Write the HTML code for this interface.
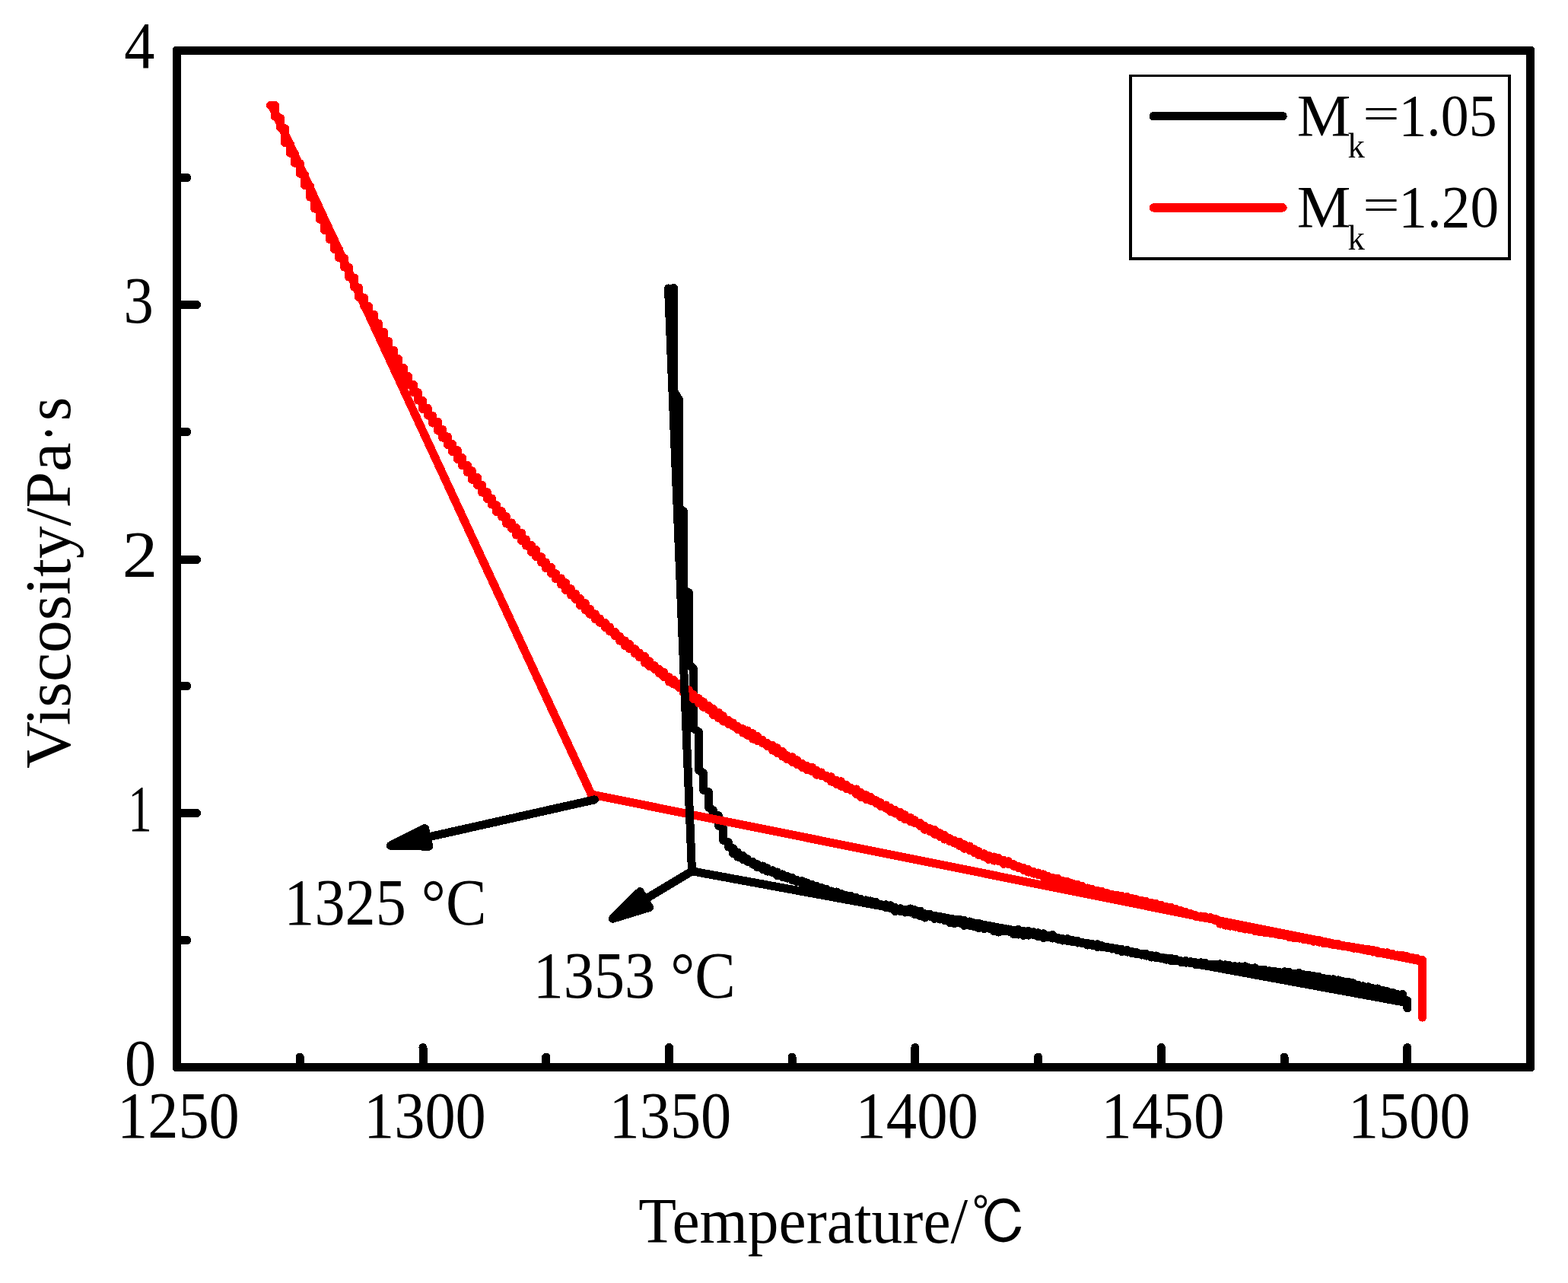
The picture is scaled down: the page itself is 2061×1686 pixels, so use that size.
<!DOCTYPE html>
<html lang="en"><head><meta charset="utf-8"><title>Viscosity vs Temperature</title>
<style>html,body{margin:0;padding:0;background:#fff}svg{display:block}</style></head>
<body>
<svg width="2061" height="1686" viewBox="0 0 2061 1686" shape-rendering="crispEdges" role="img" aria-label="Viscosity versus temperature">
<rect x="0" y="0" width="2061" height="1686" fill="#fff"/>
<g fill="none" stroke-width="11" stroke-linejoin="round" stroke-linecap="round">
<polyline stroke="#000" points="885.5,378.5 885.5,514 892.5,525 892.5,668 898.5,672 898.5,775 905.5,779 905.5,873 911.5,879 911.5,957 918.5,962 918.5,1012 924.5,1016 924.5,1038 931.5,1041 931.5,1061 937.5,1065 937.5,1069 944.5,1072 944.5,1085 950.5,1088 950.5,1104 957.5,1107 957.5,1113 963.5,1114.8 963.5,1121.5 969.5,1120 969.5,1126.2 976.5,1124.3 976.5,1129.7 982.5,1128.8 982.5,1132.3 989.5,1132.4 989.5,1136 995.5,1135.7 995.5,1139.8 1002.5,1138 1002.5,1142.4 1008.5,1140.8 1008.5,1145.2 1015.5,1143.8 1015.5,1146.9 1021.5,1146 1021.5,1150.5 1028.5,1148.9 1028.5,1152.6 1034.5,1151.1 1034.5,1154.2 1041.5,1153.3 1041.5,1156.8 1047.5,1156.5 1047.5,1159 1054.5,1157.7 1054.5,1161.1 1060.5,1159.9 1060.5,1164.3 1067.5,1162.4 1067.5,1165.5 1073.5,1164.5 1073.5,1168 1079.5,1166.1 1079.5,1169.9 1086.5,1168.3 1086.5,1171.1 1092.5,1171 1092.5,1173.3 1099.5,1172 1099.5,1175.2 1105.5,1174.1 1105.5,1176.6 1112.5,1176.7 1112.5,1178.7 1118.5,1177.5 1118.5,1181.1 1125.5,1179.3 1125.5,1182.2 1131.5,1181.2 1131.5,1184.1 1138.5,1182.9 1138.5,1185.2 1144.5,1183.9 1144.5,1186.9 1151.5,1185.4 1151.5,1189.6 1157.5,1188.4 1157.5,1190.5 1164.5,1188.7 1164.5,1192.7 1170.5,1189.9 1170.5,1193.7 1176.5,1192.2 1176.5,1197.6 1183.5,1193.7 1183.5,1197.8 1189.5,1195.4 1189.5,1199 1196.5,1194 1196.5,1199.1 1202.5,1195.9 1202.5,1201.8 1209.5,1197.1 1209.5,1203.9 1215.5,1200.8 1215.5,1206 1222.5,1201.3 1222.5,1204.3 1228.5,1204.4 1228.5,1207.4 1235.5,1204.2 1235.5,1208.1 1241.5,1206.7 1241.5,1209.6 1248.5,1207.5 1248.5,1212.7 1254.5,1209.9 1254.5,1213.8 1261.5,1208.4 1261.5,1213 1267.5,1209.5 1267.5,1216.4 1274.5,1210.9 1274.5,1216.3 1280.5,1214.1 1280.5,1217.9 1286.5,1213.2 1286.5,1219.8 1293.5,1216.6 1293.5,1220.4 1299.5,1218.1 1299.5,1220.1 1306.5,1219.7 1306.5,1223.9 1312.5,1220 1312.5,1225.1 1319.5,1221.1 1319.5,1223.6 1325.5,1221 1325.5,1224.2 1332.5,1222.3 1332.5,1227.8 1338.5,1221.4 1338.5,1228.1 1345.5,1223.2 1345.5,1229.4 1351.5,1223.1 1351.5,1229.2 1358.5,1224.8 1358.5,1228.5 1364.5,1225.8 1364.5,1230.9 1371.5,1226.8 1371.5,1232.7 1377.5,1229.6 1377.5,1231.7 1383.5,1228.4 1383.5,1233.1 1390.5,1232.1 1390.5,1234.3 1396.5,1233.5 1396.5,1236 1403.5,1233.6 1403.5,1236.5 1409.5,1235.2 1409.5,1237.7 1416.5,1236.5 1416.5,1239 1422.5,1238.3 1422.5,1239.8 1429.5,1239.4 1429.5,1242.1 1435.5,1240.2 1435.5,1242.3 1442.5,1240.8 1442.5,1244.7 1448.5,1242.7 1448.5,1244.6 1455.5,1244.3 1455.5,1245.8 1461.5,1245.3 1461.5,1247 1468.5,1246.7 1468.5,1248.5 1474.5,1247.4 1474.5,1250.7 1481.5,1248.4 1481.5,1251.2 1487.5,1250.1 1487.5,1252.7 1493.5,1251.5 1493.5,1253.8 1500.5,1253.3 1500.5,1255 1506.5,1253.3 1506.5,1256.1 1513.5,1255.3 1513.5,1258.1 1519.5,1256 1519.5,1258.7 1526.5,1258.1 1526.5,1259.8 1532.5,1259 1532.5,1261.2 1539.5,1259.2 1539.5,1262.9 1545.5,1260.4 1545.5,1262.6 1552.5,1262.7 1552.5,1264.6 1558.5,1262.3 1558.5,1265.2 1565.5,1263.7 1565.5,1265.3 1571.5,1264.8 1571.5,1267.4 1578.5,1264.9 1578.5,1268 1584.5,1265.3 1584.5,1267.7 1591.5,1267.2 1591.5,1268 1597.5,1267.1 1597.5,1269.3 1603.5,1266.9 1603.5,1269.8 1610.5,1267.8 1610.5,1270.3 1616.5,1268.6 1616.5,1270.6 1623.5,1269.7 1623.5,1271.5 1629.5,1269.9 1629.5,1273.2 1636.5,1269.8 1636.5,1272.7 1642.5,1271.9 1642.5,1273.7 1649.5,1271.8 1649.5,1275.8 1655.5,1274.1 1655.5,1275.5 1662.5,1274.3 1662.5,1277.7 1668.5,1275.7 1668.5,1277.9 1675.5,1276.2 1675.5,1278.2 1681.5,1277.6 1681.5,1279.9 1688.5,1276.8 1688.5,1280.8 1694.5,1277.5 1694.5,1281 1700.5,1279.5 1700.5,1281.2 1707.5,1278.6 1707.5,1283 1713.5,1280.9 1713.5,1282.5 1720.5,1281.4 1720.5,1284.9 1726.5,1282.6 1726.5,1285.1 1733.5,1283.2 1733.5,1287.7 1739.5,1285.3 1739.5,1287 1746.5,1286.3 1746.5,1289.1 1752.5,1286.8 1752.5,1289.9 1759.5,1287.9 1759.5,1292.5 1765.5,1289.9 1765.5,1292.6 1772.5,1290.2 1772.5,1294.3 1778.5,1291.9 1778.5,1295.5 1785.5,1294.6 1785.5,1298 1791.5,1295.9 1791.5,1299.8 1798.5,1296.8 1798.5,1299.5 1804.5,1298.7 1804.5,1301.2 1810.5,1299 1810.5,1303.6 1817.5,1301.4 1817.5,1303.7 1823.5,1302.6 1823.5,1306.5 1830.5,1304.2 1830.5,1306.2 1836.5,1306.2 1836.5,1308.9 1843.5,1306.4 1843.5,1313 1849.8,1315 1849.8,1325"/>
<polyline stroke="#f00" points="355.5,138.5 361.5,138.3 361.5,153.2 368.5,155.2 368.5,167.5 374.5,168.6 374.5,187.5 381.5,189.5 381.5,201.3 387.5,202.2 387.5,214.3 394.5,215.1 394.5,228.3 400.5,229.5 400.5,243.5 407.5,244.9 407.5,258.9 413.5,260.2 413.5,274 420.5,275.3 420.5,288.3 426.5,289.4 426.5,302.6 433.5,303.2 433.5,314.7 439.5,315.3 439.5,327.6 445.5,327.5 445.5,339 452.5,339.1 452.5,350.8 458.5,351.4 458.5,363.8 465.5,364.9 465.5,376.8 471.5,378 471.5,390.6 478.5,391.1 478.5,402.2 484.5,402.3 484.5,412.8 491.5,413.2 491.5,423.7 497.5,425 497.5,435.6 504.5,436.1 504.5,447.7 510.5,448.4 510.5,459.8 517.5,460.2 517.5,471.3 523.5,471.6 523.5,483.1 530.5,483.5 530.5,494.2 536.5,494.4 536.5,505.6 543.5,505.3 543.5,515.8 549.5,515.8 549.5,526.1 555.5,526.3 555.5,537.5 562.5,536.6 562.5,546 568.5,546 568.5,556 575.5,554.1 575.5,566 581.5,564.1 581.5,575.1 588.5,573.9 588.5,584.7 594.5,583.2 594.5,593.4 601.5,591.6 601.5,603.5 607.5,601.5 607.5,611.8 614.5,611.3 614.5,620.8 620.5,618.9 620.5,630.3 627.5,627.3 627.5,637.5 633.5,637.1 633.5,647.2 640.5,646.7 640.5,655.4 646.5,655 646.5,663.1 652.5,663.7 652.5,672.6 659.5,671.6 659.5,679.2 665.5,678.8 665.5,688.2 672.5,687 672.5,694.7 678.5,693.4 678.5,703.1 685.5,700.2 685.5,710.5 691.5,708.9 691.5,717.1 698.5,716.3 698.5,725.7 704.5,722.5 704.5,731.5 711.5,731.7 711.5,739.1 717.5,738.9 717.5,746.8 724.5,745.3 724.5,753.5 730.5,753.7 730.5,760.9 737.5,760 737.5,768.2 743.5,765.7 743.5,775.4 750.5,773.6 750.5,782.1 756.5,780.1 756.5,787.5 762.5,786.2 762.5,795.6 769.5,792.8 769.5,802 775.5,800.1 775.5,807.3 782.5,806.9 782.5,813.8 788.5,813 788.5,818.4 795.5,818.5 795.5,824.4 801.5,824 801.5,829.9 808.5,830.5 808.5,835.9 814.5,836 814.5,842.1 821.5,841.9 821.5,848.9 827.5,846.3 827.5,852.9 834.5,852.7 834.5,858.9 840.5,858 840.5,863.9 847.5,862.4 847.5,871.2 853.5,868.7 853.5,875.4 860.5,874.7 860.5,879.6 866.5,879.2 866.5,885 872.5,883.1 872.5,889.6 879.5,889.8 879.5,896.2 885.5,893.5 885.5,899.2 892.5,898.2 892.5,903.6 898.5,902.9 898.5,910.3 905.5,906.8 905.5,914.4 911.5,912.8 911.5,918.4 918.5,917.8 918.5,924.2 924.5,922 924.5,929.3 931.5,927.4 931.5,933 937.5,931.4 937.5,939.6 944.5,936.1 944.5,943.8 950.5,940.8 950.5,948 957.5,946.3 957.5,951.5 963.5,950 963.5,954.2 969.5,954.5 969.5,958.5 976.5,957.8 976.5,963.2 982.5,960 982.5,966.3 989.5,963.7 989.5,971.2 995.5,967.3 995.5,973.5 1002.5,972.6 1002.5,976.9 1008.5,976.4 1008.5,980.7 1015.5,979.3 1015.5,986.2 1021.5,982.9 1021.5,989.4 1028.5,987.4 1028.5,994.2 1034.5,992.7 1034.5,997.8 1041.5,994.8 1041.5,1001.7 1047.5,998.7 1047.5,1004.4 1054.5,1003.4 1054.5,1008.4 1060.5,1006.3 1060.5,1011.6 1067.5,1008.1 1067.5,1013.9 1073.5,1012.5 1073.5,1018.3 1079.5,1015 1079.5,1019.7 1086.5,1019.4 1086.5,1022.7 1092.5,1020.8 1092.5,1027.2 1099.5,1025.5 1099.5,1030.4 1105.5,1026.8 1105.5,1033.3 1112.5,1031.5 1112.5,1036.5 1118.5,1035.4 1118.5,1038.7 1125.5,1037 1125.5,1043.6 1131.5,1041.4 1131.5,1047.5 1138.5,1044.9 1138.5,1050.6 1144.5,1047.2 1144.5,1052.3 1151.5,1051.7 1151.5,1055.6 1157.5,1054.8 1157.5,1059.4 1164.5,1058 1164.5,1062.3 1170.5,1061.5 1170.5,1066.7 1176.5,1064.3 1176.5,1069 1183.5,1067.2 1183.5,1073.4 1189.5,1070.9 1189.5,1076.9 1196.5,1074.2 1196.5,1079.5 1202.5,1077.6 1202.5,1081.9 1209.5,1081.3 1209.5,1085.6 1215.5,1085.6 1215.5,1090.3 1222.5,1088.6 1222.5,1092.9 1228.5,1090.6 1228.5,1096.3 1235.5,1094.7 1235.5,1099.4 1241.5,1097.4 1241.5,1103.1 1248.5,1101.6 1248.5,1105.8 1254.5,1104.4 1254.5,1108.2 1261.5,1106.3 1261.5,1111.8 1267.5,1109.8 1267.5,1115.3 1274.5,1112 1274.5,1117.5 1280.5,1115.6 1280.5,1120.6 1286.5,1118.7 1286.5,1123.9 1293.5,1121.7 1293.5,1126.1 1299.5,1124.2 1299.5,1129.4 1306.5,1126 1306.5,1131.2 1312.5,1127.5 1312.5,1131.8 1319.5,1130.3 1319.5,1135.4 1325.5,1131.8 1325.5,1135.9 1332.5,1135.7 1332.5,1138.3 1338.5,1138.1 1338.5,1140.5 1345.5,1140.5 1345.5,1143.4 1351.5,1142.3 1351.5,1146.1 1358.5,1145.4 1358.5,1148.2 1364.5,1147 1364.5,1149.6 1371.5,1148.9 1371.5,1152.4 1377.5,1151.5 1377.5,1154.3 1383.5,1153.2 1383.5,1155.7 1390.5,1154.4 1390.5,1157.9 1396.5,1157.1 1396.5,1159.4 1403.5,1158.7 1403.5,1161.2 1409.5,1160.9 1409.5,1163.2 1416.5,1162.4 1416.5,1164.9 1422.5,1164.5 1422.5,1167.2 1429.5,1167 1429.5,1169 1435.5,1168.2 1435.5,1170.9 1442.5,1170.6 1442.5,1173.1 1448.5,1171.5 1448.5,1174.6 1455.5,1173.7 1455.5,1175.3 1461.5,1175.2 1461.5,1177.2 1468.5,1176.3 1468.5,1177.9 1474.5,1177.5 1474.5,1180.1 1481.5,1178.5 1481.5,1180.9 1487.5,1180.6 1487.5,1183 1493.5,1181.6 1493.5,1184.2 1500.5,1183.6 1500.5,1185 1506.5,1184.4 1506.5,1186.8 1513.5,1186.5 1513.5,1188.8 1519.5,1187.4 1519.5,1190.2 1526.5,1189.5 1526.5,1191.9 1532.5,1191.2 1532.5,1193.7 1539.5,1192.6 1539.5,1195.1 1545.5,1194.4 1545.5,1197.7 1552.5,1196.7 1552.5,1198.9 1558.5,1198.5 1558.5,1200.9 1565.5,1200.8 1565.5,1202.7 1571.5,1202.7 1571.5,1204.3 1578.5,1204 1578.5,1205.6 1584.5,1204.7 1584.5,1206.5 1591.5,1205.8 1591.5,1207.5 1597.5,1207.1 1597.5,1209.7 1603.5,1210 1603.5,1214.1 1610.5,1213.6 1610.5,1216.1 1616.5,1215.5 1616.5,1217.2 1623.5,1216 1623.5,1218.1 1629.5,1217.3 1629.5,1219.6 1636.5,1218.8 1636.5,1221.1 1642.5,1220 1642.5,1221.9 1649.5,1220.9 1649.5,1223.5 1655.5,1222.3 1655.5,1224.5 1662.5,1223.1 1662.5,1225.4 1668.5,1224.5 1668.5,1226.2 1675.5,1225.9 1675.5,1227.1 1681.5,1227.1 1681.5,1228.9 1688.5,1228 1688.5,1229.5 1694.5,1229.4 1694.5,1231.4 1700.5,1229.8 1700.5,1232.4 1707.5,1231.5 1707.5,1233.1 1713.5,1232.7 1713.5,1234.5 1720.5,1234 1720.5,1235.6 1726.5,1235.1 1726.5,1237.3 1733.5,1235.5 1733.5,1238.1 1739.5,1237.4 1739.5,1239.7 1746.5,1238.5 1746.5,1240.2 1752.5,1240 1752.5,1241.4 1759.5,1240.7 1759.5,1242.7 1765.5,1242.1 1765.5,1243.8 1772.5,1243.5 1772.5,1244.8 1778.5,1244.5 1778.5,1246.1 1785.5,1245.8 1785.5,1246.8 1791.5,1246.7 1791.5,1248.2 1798.5,1247.5 1798.5,1249.7 1804.5,1248.5 1804.5,1251 1810.5,1249.7 1810.5,1252.3 1817.5,1251.2 1817.5,1253 1823.5,1251.8 1823.5,1253.9 1830.5,1253.2 1830.5,1255.6 1836.5,1255 1836.5,1256.9 1843.5,1255.4 1843.5,1257.9 1849.5,1256.7 1849.5,1259.2 1856.5,1258.4 1856.5,1260.1 1862.5,1259.2 1862.5,1261.6 1869.5,1261.5 1869.5,1337.2"/>
<polyline stroke="#f00" stroke-linejoin="miter" points="357.3,138.8 777.3,1044 1869.4,1263.4"/>
<polyline stroke="#000" stroke-linejoin="miter" points="878.5,379 909.5,1144.8 1849.5,1317.7"/>
</g>
<line x1="781.4" y1="1050.9" x2="561.2" y2="1100.4" stroke="#000" stroke-width="11" stroke-linecap="round"/>
<polygon points="513.4,1111.2 558.5,1088.6 563.9,1112.2" fill="#000" stroke="#000" stroke-width="11" stroke-linejoin="round"/>
<line x1="909.5" y1="1144.8" x2="847.3" y2="1182.1" stroke="#000" stroke-width="11" stroke-linecap="round"/>
<polygon points="805.3,1207.3 841.1,1171.7 853.5,1192.5" fill="#000" stroke="#000" stroke-width="11" stroke-linejoin="round"/>
<g stroke="#000" stroke-width="11" fill="none" stroke-linecap="round">
<path fill="#000" stroke="none" fill-rule="evenodd" d="M229.2 61L2014.8 61L2017 63.2L2017 1405.8L2014.8 1408L229.2 1408L227 1405.8L227 63.2ZM238 72L238 1397L2006 1397L2006 72Z"/>
<line x1="394.2" y1="1402.5" x2="394.2" y2="1389"/>
<line x1="556" y1="1402.5" x2="556" y2="1376.5"/>
<line x1="717.7" y1="1402.5" x2="717.7" y2="1389"/>
<line x1="879.4" y1="1402.5" x2="879.4" y2="1376.5"/>
<line x1="1041.1" y1="1402.5" x2="1041.1" y2="1389"/>
<line x1="1202.9" y1="1402.5" x2="1202.9" y2="1376.5"/>
<line x1="1364.6" y1="1402.5" x2="1364.6" y2="1389"/>
<line x1="1526.3" y1="1402.5" x2="1526.3" y2="1376.5"/>
<line x1="1688" y1="1402.5" x2="1688" y2="1389"/>
<line x1="1849.8" y1="1402.5" x2="1849.8" y2="1376.5"/>
<line x1="232.5" y1="1235.5" x2="246" y2="1235.5"/>
<line x1="232.5" y1="1068.5" x2="258.5" y2="1068.5"/>
<line x1="232.5" y1="901.5" x2="246" y2="901.5"/>
<line x1="232.5" y1="735.4" x2="258.5" y2="735.4"/>
<line x1="232.5" y1="567.5" x2="246" y2="567.5"/>
<line x1="232.5" y1="400.5" x2="258.5" y2="400.5"/>
<line x1="232.5" y1="233.5" x2="246" y2="233.5"/>
</g>
<rect x="1485.8" y="99.6" width="498" height="240.4" fill="#fff" stroke="#000" stroke-width="3.4"/>
<line x1="1516.3" y1="152.7" x2="1686" y2="152.7" stroke="#000" stroke-width="11.4" stroke-linecap="round"/>
<line x1="1516.3" y1="272.9" x2="1686" y2="272.9" stroke="#f00" stroke-width="11.4" stroke-linecap="round"/>
<text font-family='"Liberation Serif", serif' font-size="87" fill="#000" xml:space="preserve"><tspan x="153.92" y="1494.7" textLength="160.94" lengthAdjust="spacingAndGlyphs">1250</tspan></text>
<text font-family='"Liberation Serif", serif' font-size="87" fill="#000" xml:space="preserve"><tspan x="477.92" y="1494.7" textLength="160.94" lengthAdjust="spacingAndGlyphs">1300</tspan></text>
<text font-family='"Liberation Serif", serif' font-size="87" fill="#000" xml:space="preserve"><tspan x="800.42" y="1494.7" textLength="160.94" lengthAdjust="spacingAndGlyphs">1350</tspan></text>
<text font-family='"Liberation Serif", serif' font-size="87" fill="#000" xml:space="preserve"><tspan x="1124.50" y="1494.7" textLength="161.47" lengthAdjust="spacingAndGlyphs">1400</tspan></text>
<text font-family='"Liberation Serif", serif' font-size="87" fill="#000" xml:space="preserve"><tspan x="1447.26" y="1494.7" textLength="162.22" lengthAdjust="spacingAndGlyphs">1450</tspan></text>
<text font-family='"Liberation Serif", serif' font-size="87" fill="#000" xml:space="preserve"><tspan x="1771.93" y="1494.7" textLength="160.62" lengthAdjust="spacingAndGlyphs">1500</tspan></text>
<text font-family='"Liberation Serif", serif' font-size="86" fill="#000" xml:space="preserve"><tspan x="163.19" y="88.9" textLength="40.19" lengthAdjust="spacingAndGlyphs">4</tspan></text>
<text font-family='"Liberation Serif", serif' font-size="86" fill="#000" xml:space="preserve"><tspan x="162.62" y="423.5" textLength="39.35" lengthAdjust="spacingAndGlyphs">3</tspan></text>
<text font-family='"Liberation Serif", serif' font-size="86" fill="#000" xml:space="preserve"><tspan x="160.71" y="757.9" textLength="46.51" lengthAdjust="spacingAndGlyphs">2</tspan></text>
<text font-family='"Liberation Serif", serif' font-size="86" fill="#000" xml:space="preserve"><tspan x="168.35" y="1092" textLength="31.53" lengthAdjust="spacingAndGlyphs">1</tspan></text>
<text font-family='"Liberation Serif", serif' font-size="86" fill="#000" xml:space="preserve"><tspan x="163.75" y="1426" textLength="41.51" lengthAdjust="spacingAndGlyphs">0</tspan></text>
<text font-family='"Liberation Serif", serif' font-size="85.5" fill="#000" xml:space="preserve"><tspan x="839.33" y="1632.5" textLength="432.86" lengthAdjust="spacingAndGlyphs">Temperature/</tspan><tspan x="1277.09" y="1635.4" textLength="73.18" lengthAdjust="spacingAndGlyphs" font-size="78.2" font-family='"Liberation Serif", "IPAGothic", serif'>℃</tspan></text>
<text transform="translate(91.7 1009.1) rotate(-90)" font-family='"Liberation Serif", serif' font-size="85.5" fill="#000" xml:space="preserve"><tspan x="-0.94" y="0" textLength="428.21" lengthAdjust="spacingAndGlyphs">Viscosity/Pa</tspan><tspan x="428.70" y="0" textLength="22.11" lengthAdjust="spacingAndGlyphs">·</tspan><tspan x="456.03" y="0" textLength="31.06" lengthAdjust="spacingAndGlyphs">s</tspan></text>
<text font-family='"Liberation Serif", serif' font-size="86" fill="#000" xml:space="preserve"><tspan x="373.34" y="1215.2" textLength="266.06" lengthAdjust="spacingAndGlyphs">1325 °C</tspan></text>
<text font-family='"Liberation Serif", serif' font-size="86" fill="#000" xml:space="preserve"><tspan x="700.74" y="1310.9" textLength="266.17" lengthAdjust="spacingAndGlyphs">1353 °C</tspan></text>
<text font-family='"Liberation Serif", serif' font-size="77.5" fill="#000" xml:space="preserve"><tspan x="1704.70" y="177.8" textLength="70.62" lengthAdjust="spacingAndGlyphs">M</tspan><tspan x="1771.55" y="207.2" textLength="22.35" lengthAdjust="spacingAndGlyphs" font-size="47">k</tspan><tspan x="1791.20" y="169.9" textLength="48.51" lengthAdjust="spacingAndGlyphs" font-size="60.5">=</tspan><tspan x="1838.52" y="177.8" textLength="128.96" lengthAdjust="spacingAndGlyphs">1.05</tspan></text>
<text font-family='"Liberation Serif", serif' font-size="77.5" fill="#000" xml:space="preserve"><tspan x="1704.70" y="298.2" textLength="70.62" lengthAdjust="spacingAndGlyphs">M</tspan><tspan x="1771.55" y="327.6" textLength="22.35" lengthAdjust="spacingAndGlyphs" font-size="47">k</tspan><tspan x="1791.20" y="290.3" textLength="48.51" lengthAdjust="spacingAndGlyphs" font-size="60.5">=</tspan><tspan x="1838.37" y="298.2" textLength="131.79" lengthAdjust="spacingAndGlyphs">1.20</tspan></text>
</svg>
</body></html>
